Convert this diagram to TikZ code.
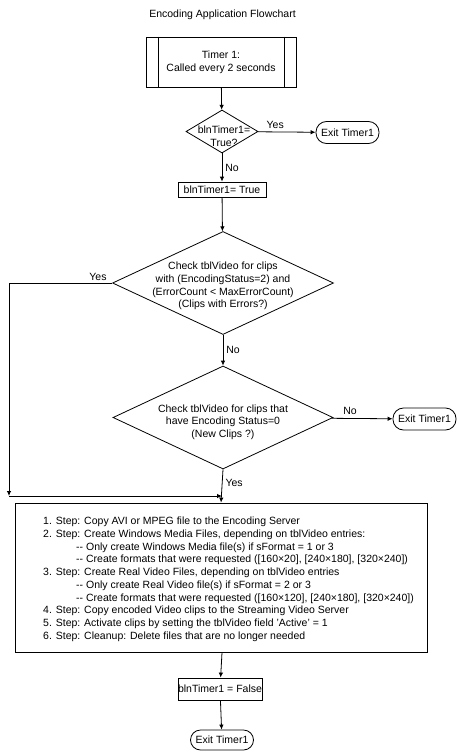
\documentclass[tikz,border=0pt]{standalone}
\usepackage{fontspec}
\setmainfont{Liberation Sans}
\usetikzlibrary{shapes.geometric,arrows.meta}
\begin{document}
\begin{tikzpicture}[x=1pt,y=-1pt,
  every node/.style={font=\fontsize{10.5}{12.7}\selectfont},
  box/.style={draw, line width=0.8pt, inner sep=0pt},
  dia/.style={draw, line width=0.8pt, shape=diamond, inner sep=0pt},
  term/.style={draw, line width=0.8pt, rectangle, rounded corners=10.5pt, minimum width=63pt, minimum height=22pt, inner sep=0pt},
  arr/.style={draw, line width=0.8pt, -{Latex[length=5pt,width=4.5pt]}},
  ln/.style={draw, line width=0.8pt},
  lbl/.style={inner sep=0pt}]
\useasboundingbox (0,0) rectangle (460,752);
\node[lbl] (title) at (222.5,15) {Encoding Application Flowchart};
% Timer box
\node[box, minimum width=150pt, minimum height=50pt, align=center] (timer) at (221,62) {Timer 1:\\Called every 2 seconds};
\draw[ln] ([xshift=12.5pt]timer.north west) -- ([xshift=12.5pt]timer.south west);
\draw[ln] ([xshift=-12.5pt]timer.north east) -- ([xshift=-12.5pt]timer.south east);
% Diamond 1
\node[dia, minimum width=72pt, minimum height=43pt] (d1) at (222,131.5) {};
\node[lbl, align=center] (d1t) at (224,136) {blnTimer1=\\True?};
\node[term] (exit1) at (347.5,132.5) {Exit Timer1};
\node[box, minimum width=88pt, minimum height=15pt] (set1) at (222,189.5) {blnTimer1= True};
% Diamond 2
\node[dia, minimum width=221pt, minimum height=103pt] (d2) at (223,283) {};
\node[lbl, align=center] (d2t) at (223,286) {Check tblVideo for clips\\with (EncodingStatus=2) and\\(ErrorCount {\char"3C} MaxErrorCount)\\(Clips with Errors?)};
% Diamond 3
\node[dia, minimum width=220pt, minimum height=103pt] (d3) at (223,417.5) {};
\node[lbl, align=center] (d3t) at (223,422) {Check tblVideo for clips that\\have Encoding Status=0\\(New Clips ?)};
\node[term] (exit2) at (424.5,419) {Exit Timer1};
% join points
\coordinate (left) at (9,496);
\coordinate (join) at (222,496);
% Big box
\node[box, minimum width=412pt, minimum height=149pt] (steps) at (221,577.5) {};
\node[lbl, align=left, anchor=north west] (stepst) at (43,517) {%
1. Step: Copy AVI or MPEG file to the Encoding Server\\
2. Step: Create Windows Media Files, depending on tblVideo entries:\\
\hspace*{33pt}{-}{-} Only create Windows Media file(s) if sFormat = 1 or 3\\
\hspace*{33pt}{-}{-} Create formats that were requested ([160×20], [240×180], [320×240])\\
3. Step: Create Real Video Files, depending on tblVideo entries\\
\hspace*{33pt}{-}{-} Only create Real Video file(s) if sFormat = 2 or 3\\
\hspace*{33pt}{-}{-} Create formats that were requested ([160×120], [240×180], [320×240])\\
4. Step: Copy encoded Video clips to the Streaming Video Server\\
5. Step: Activate clips by setting the tblVideo field 'Active' = 1\\
6. Step: Cleanup: Delete files that are no longer needed};
\node[box, minimum width=82pt, minimum height=22pt] (set2) at (220,689) {blnTimer1 = False};
\node[term, minimum height=20pt, rounded corners=10pt] (exit3) at (222,740) {Exit Timer1};
% connectors
\draw[arr] (timer) -- (d1);
\draw[arr] (d1) -- (exit1) node[lbl, pos=0.3, above=3pt] {Yes};
\draw[arr] (d1) -- (set1) node[lbl, midway, right=3pt] {No};
\draw[arr] (set1) -- (d2);
\draw[arr] (d2.west) -| (left);
\node[lbl] at (98,277) {Yes};
\draw[arr] (d2) -- (d3) node[lbl, midway, right=3pt] {No};
\draw[arr] (d3) -- (exit2) node[lbl, pos=0.3, above=3pt] {No};
\draw[arr] (left) -- (join);
\draw[arr] (d3.south) -- (steps.north) node[lbl, pos=0.4, right=3pt] {Yes};
\draw[arr] (steps.south -| exit3) -- (set2);
\draw[arr] (set2) -- (exit3);
\end{tikzpicture}
\end{document}
